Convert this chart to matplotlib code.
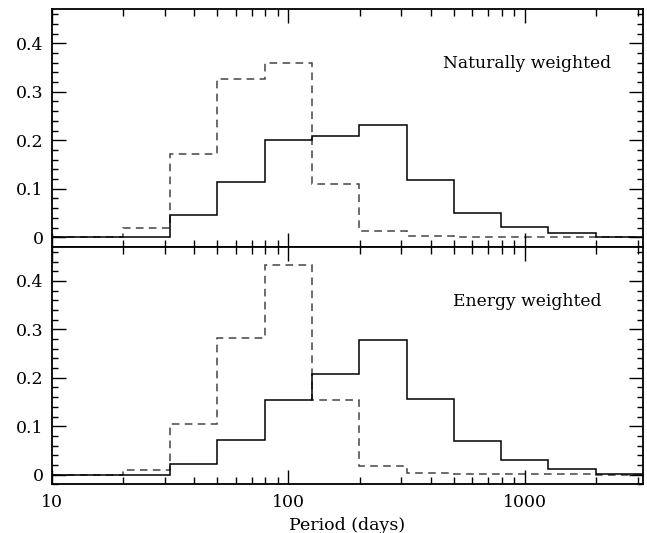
import numpy as np
import matplotlib
matplotlib.use("Agg")
import matplotlib.pyplot as plt
from matplotlib.ticker import MultipleLocator, LogLocator, NullFormatter, FuncFormatter

# log10 of the period bin edges (0.2 dex bins)
log_edges = [0.9, 1.1, 1.3, 1.5, 1.7, 1.9, 2.1, 2.3, 2.5, 2.7, 2.9, 3.1, 3.3, 3.5]

# Naturally weighted fractions
nat_solid = [0, 0, 0, 0.046, 0.115, 0.200, 0.209, 0.232, 0.118, 0.050, 0.021, 0.008, 0.001]
nat_dashed = [0, 0, 0.020, 0.171, 0.327, 0.359, 0.110, 0.013, 0.002, 0.001, 0.001, 0.0005, 0.0]

# Energy weighted fractions
en_solid = [0, 0, 0, 0.023, 0.071, 0.155, 0.207, 0.279, 0.157, 0.070, 0.031, 0.012, 0.0015]
en_dashed = [0, 0, 0.010, 0.105, 0.283, 0.433, 0.154, 0.018, 0.003, 0.002, 0.001, 0.001, 0.0]

labels = ["Naturally weighted", "Energy weighted"]

plt.rcParams["font.family"] = ["DejaVu Serif"]
plt.rcParams["font.size"] = 12.5

edges = 10 ** np.array(log_edges)

fig = plt.figure(figsize=(6.47, 5.33), dpi=100)
ax1 = fig.add_axes([0.0804, 0.5366, 0.9134, 0.4459])
ax2 = fig.add_axes([0.0804, 0.0913, 0.9134, 0.4453], sharex=ax1)

for ax, solid, dashed, lab in [(ax1, nat_solid, nat_dashed, labels[0]),
                               (ax2, en_solid, en_dashed, labels[1])]:
    ax.stairs(dashed, edges, baseline=None, color="#444444", linestyle=(0, (5, 3.5)), linewidth=1.1)
    ax.stairs(solid, edges, baseline=None, color="black", linewidth=1.1)
    ax.set_xscale("log")
    ax.set_xlim(10, 10 ** 3.5)
    ax.set_ylim(-0.02, 0.47)
    ax.yaxis.set_major_locator(MultipleLocator(0.1))
    ax.yaxis.set_minor_locator(MultipleLocator(0.02))
    ax.yaxis.set_major_formatter(FuncFormatter(lambda v, p: "0" if abs(v) < 1e-9 else f"{v:.1f}"))
    ax.xaxis.set_major_locator(LogLocator(base=10))
    ax.xaxis.set_minor_locator(LogLocator(base=10, subs=np.arange(2, 10)))
    ax.xaxis.set_minor_formatter(NullFormatter())
    ax.tick_params(which="both", direction="in", top=True, right=True, width=1.0)
    ax.tick_params(which="major", length=10)
    ax.tick_params(which="minor", length=5)
    ax.tick_params(axis="y", which="major", length=10, pad=6)
    ax.tick_params(axis="y", which="minor", length=4.5)
    ax.tick_params(axis="x", which="major", pad=7)
    for s in ax.spines.values():
        s.set_linewidth(1.3)
    ax.text(0.804, 0.77, lab, transform=ax.transAxes, ha="center", va="center", fontsize=12.3)

ax1.tick_params(axis="x", labelbottom=False)
ax2.xaxis.set_major_formatter(FuncFormatter(lambda v, p: f"{v:g}"))
ax2.set_xlabel("Period (days)", labelpad=4)

fig.savefig("out.png", dpi=100)
